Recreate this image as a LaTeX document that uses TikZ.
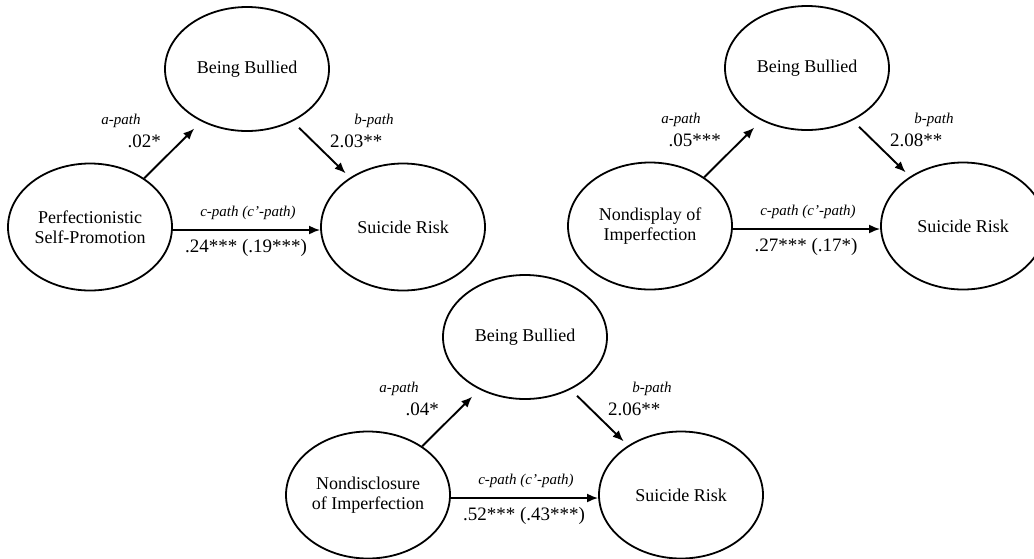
\documentclass[tikz,border=0pt]{standalone}
\usepackage{fontspec}
\setmainfont{Liberation Serif}
\usetikzlibrary{arrows.meta,calc,shapes.geometric}
\newcommand{\medpanel}[7]{%
  \begin{scope}[shift={(#2)}]
    \node[var] (#1P) at (0,0) {#3};
    \node[var, minimum height=124pt] (#1B) at (157,-158) {Being Bullied};
    \node[var] (#1S) at (313,0) {Suicide Risk};
    \draw[arr, shorten >=10pt] (#1P.42) -- (#1B.229);
    \draw[arr, shorten <=9pt, shorten >=6pt] (#1B.-49) -- (#1S.137);
    \draw[arr] ([yshift=-3pt]#1P.east) -- ([yshift=-3pt]#1S.west);
    \node[plab] (#1la) at (31,-103) {a-path};
    \node[val, anchor=base east] (#1va) at (71,-80) {#4};
    \node[plab] (#1lb) at (284,-103) {b-path};
    \node[val, anchor=base west] (#1vb) at (240,-80) {#5};
    \node[plab] (#1lc) at (158,-11) {c-path (c’-path)};
    \node[val] (#1vc) at (156,25) {#6};
  \end{scope}}
\begin{document}
\begin{tikzpicture}[x=1pt,y=-1pt,
  var/.style={draw, line width=1.8pt, ellipse, minimum width=164pt, minimum height=127pt,
    inner sep=0pt, align=center, font=\fontsize{18}{20}\selectfont},
  arr/.style={line width=1.9pt, -{Latex[length=11pt,width=9pt]}},
  plab/.style={font=\fontsize{15}{15}\selectfont\itshape, anchor=base, inner sep=0pt},
  val/.style={font=\fontsize{19}{19}\selectfont, anchor=base, inner sep=0pt},
]
\useasboundingbox (0,0) rectangle (1034,558);
\medpanel{t}{90,227}{Perfectionistic\\Self-Promotion}{.02*}{2.03**}{.24*** (.19***)}{}
\medpanel{r}{650,226}{Nondisplay of\\Imperfection}{.05***}{2.08**}{.27*** (.17*)}{}
\medpanel{m}{368,495}{Nondisclosure\\of Imperfection}{.04*}{2.06**}{.52*** (.43***)}{}
\end{tikzpicture}
\end{document}
